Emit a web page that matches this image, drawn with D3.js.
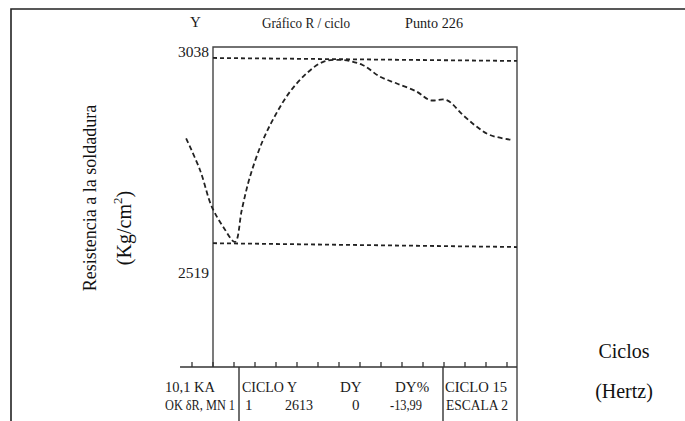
<!DOCTYPE html>
<html>
<head>
<meta charset="utf-8">
<script src="https://cdn.jsdelivr.net/npm/d3@7"></script>
<style>
  html, body { margin: 0; padding: 0; background: #fff; }
  svg { display: block; }
</style>
</head>
<body>
<div id="chart"></div>
<script>
// --- DATA ---
const cycles = [-1.28, -0.62, -0.06, 0.48, 1.05, 1.37, 1.76, 2.38, 3.03, 3.67, 4.46, 5.25, 6.19, 7.14, 7.95, 8.75, 9.7, 10.33, 11.13, 11.9, 12.55, 13.19, 14.3];
const resistance = [2835, 2761, 2675, 2628, 2592, 2667, 2745, 2831, 2895, 2945, 2988, 3015, 3019, 3007, 2980, 2964, 2945, 2925, 2925, 2890, 2863, 2843, 2831];
const upperRef = [3024, 3017];   // dashed limit at start / end of the frame
const lowerRef = [2589, 2580];
const yTicks = [3038, 2519];
const xTicks = d3.range(-1, 15);  // small ticks on the base line

const headerTexts = ["Y", "Gráfico R / ciclo", "Punto 226"];
const tableRow1 = ["10,1 KA", "CICLO  Y", "DY", "DY%", "CICLO 15"];
const tableRow2 = ["OK δR, MN 1", "1", "2613", "0", "-13,99", "ESCALA 2"];

// --- LAYOUT ---
const W = 685, H = 421;
const plot = { left: 213, right: 517, top: 47, base: 367 };
const SERIF = "'Liberation Serif', 'Times New Roman', Times, serif";

const svg = d3.select("#chart").append("svg")
    .attr("width", W).attr("height", H)
    .attr("font-family", SERIF);

const x = d3.scaleLinear().domain([0, 14]).range([213, 507]);
const y = d3.scaleLinear().domain([2519, 3038]).range([273, 52]);
const xMax = x.invert(plot.right);

const ink = "#222";

// outer page frame (top + left only)
svg.append("path")
    .attr("d", `M11,${H} V9 H${W}`)
    .attr("fill", "none").attr("stroke", ink).attr("stroke-width", 1.6);

// plot frame
svg.append("path")
    .attr("d", `M${plot.left},${plot.base} V${plot.top} H${plot.right} V${H}`)
    .attr("fill", "none").attr("stroke", "#444").attr("stroke-width", 1.4);

// base line with upward ticks
const axisG = svg.append("g").attr("transform", `translate(0,${plot.base})`);
axisG.append("line")
    .attr("x1", x(-1.57)).attr("x2", plot.right)
    .attr("stroke", "#333").attr("stroke-width", 1.6);
axisG.selectAll("line.tick").data(xTicks).join("line")
    .attr("class", "tick")
    .attr("x1", d => x(d)).attr("x2", d => x(d))
    .attr("y1", 0).attr("y2", -5)
    .attr("stroke", "#333").attr("stroke-width", 1.3);

// table dividers
[239, 443].forEach(px => {
    svg.append("line")
        .attr("x1", px).attr("x2", px).attr("y1", plot.base).attr("y2", H)
        .attr("stroke", "#333").attr("stroke-width", 1.4);
});

// reference dashed lines
[upperRef, lowerRef].forEach(ref => {
    svg.append("line")
        .attr("x1", x(0)).attr("y1", y(ref[0]))
        .attr("x2", x(xMax)).attr("y2", y(ref[1]))
        .attr("stroke", ink).attr("stroke-width", 1.8)
        .attr("stroke-dasharray", "4,3");
});

// resistance curve
const line = d3.line()
    .x((d, i) => x(cycles[i]))
    .y(d => y(d))
    .curve(d3.curveCatmullRom.alpha(0.5));
svg.append("path")
    .datum(resistance)
    .attr("d", line)
    .attr("fill", "none").attr("stroke", ink).attr("stroke-width", 1.8)
    .attr("stroke-dasharray", "5,3");

// helper for condensed scanned-style text
function label(px, py, str, width, size, anchor) {
    const t = svg.append("text")
        .attr("x", px).attr("y", py)
        .attr("font-size", size || 15)
        .attr("fill", "#1a1a1a")
        .attr("dominant-baseline", "central")
        .attr("text-anchor", anchor || "start")
        .text(str);
    if (width) t.attr("textLength", width).attr("lengthAdjust", "spacingAndGlyphs");
    return t;
}

// header
label(190, 22, headerTexts[0], null, 15);
label(262, 23, headerTexts[1], 88, 15);
label(405, 23, headerTexts[2], 58, 15);

// y tick labels
yTicks.forEach(v => label(209, y(v), String(v), 31, 15, "end"));

// table
label(165, 387, tableRow1[0], 50);
label(242, 387, tableRow1[1], 55);
label(340, 387, tableRow1[2], null);
label(395, 387, tableRow1[3], null);
label(445, 387, tableRow1[4], 62);
label(165, 405, tableRow2[0], 70, 14);
label(245, 405, tableRow2[1], null);
label(285, 405, tableRow2[2], 28);
label(352, 405, tableRow2[3], null);
label(390, 405, tableRow2[4], 32);
label(446, 405, tableRow2[5], 62);

// axis titles
svg.append("text")
    .attr("transform", "translate(90,198) rotate(-90)")
    .attr("text-anchor", "middle").attr("dominant-baseline", "central")
    .attr("font-size", 18).attr("fill", "#111")
    .text("Resistencia a la soldadura");

const unit = svg.append("text")
    .attr("transform", "translate(124,228) rotate(-90)")
    .attr("text-anchor", "middle").attr("dominant-baseline", "central")
    .attr("font-size", 20).attr("fill", "#111");
unit.append("tspan").text("(Kg/cm");
unit.append("tspan").attr("font-size", 13).attr("dy", -7).text("2");
unit.append("tspan").attr("dy", 7).text(")");

svg.append("text")
    .attr("x", 624).attr("y", 351)
    .attr("text-anchor", "middle").attr("dominant-baseline", "central")
    .attr("font-size", 20).attr("fill", "#111").text("Ciclos");
svg.append("text")
    .attr("x", 624).attr("y", 391)
    .attr("text-anchor", "middle").attr("dominant-baseline", "central")
    .attr("font-size", 20).attr("fill", "#111").text("(Hertz)");
</script>
</body>
</html>
